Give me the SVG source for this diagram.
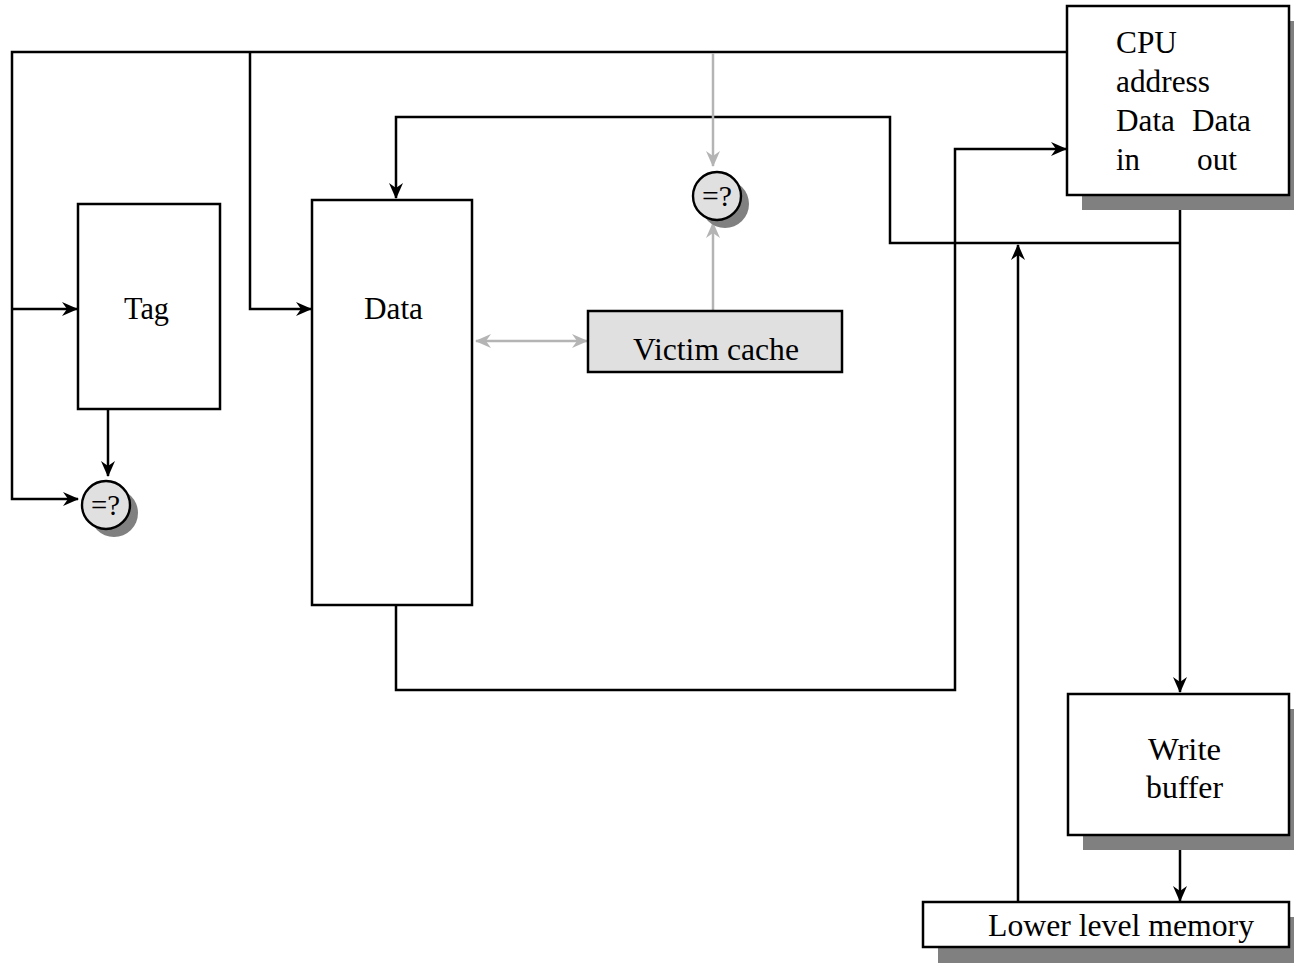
<svg xmlns="http://www.w3.org/2000/svg" width="1294" height="963" viewBox="0 0 1294 963">
<style>
.box{fill:#fff;stroke:#000;stroke-width:2.5}
.shadow{fill:#808080}
.line{fill:none;stroke:#000;stroke-width:2.5}
.gline{fill:none;stroke:#b4b4b4;stroke-width:2.5}
.cmp{fill:#e0e0e0;stroke:#000;stroke-width:2.4}
text{font-family:"Liberation Serif","Times New Roman",serif;font-size:31px;fill:#000}
.q{font-size:29px}
</style>
<defs>
<marker id="ah" viewBox="0 0 16 14" markerWidth="16" markerHeight="14" refX="15" refY="7" orient="auto" markerUnits="userSpaceOnUse">
<path d="M0,0 L16,7 L0,14 L5,7 z" fill="#000"/>
</marker>
<marker id="ag" viewBox="0 0 16 14" markerWidth="16" markerHeight="14" refX="15" refY="7" orient="auto-start-reverse" markerUnits="userSpaceOnUse">
<path d="M0,0 L16,7 L0,14 L5,7 z" fill="#b4b4b4"/>
</marker>
</defs>
<g id="connectors">
<path class="line" d="M1067,52 H12 V499 H78" marker-end="url(#ah)"/>
<path class="line" d="M12,309 H77" marker-end="url(#ah)"/>
<path class="line" d="M250,52 V309 H311" marker-end="url(#ah)"/>
<path class="line" d="M108,409 V476" marker-end="url(#ah)"/>
<path class="line" d="M1180,243 H890 V117 H396 V198" marker-end="url(#ah)"/>
<path class="line" d="M396,605 V690 H955 V149 H1066" marker-end="url(#ah)"/>
<path class="line" d="M1180,196 V692" marker-end="url(#ah)"/>
<path class="line" d="M1180,836 V901" marker-end="url(#ah)"/>
<path class="line" d="M1018,902 V245" marker-end="url(#ah)"/>
<path class="gline" d="M713,53 V166" marker-end="url(#ag)"/>
<path class="gline" d="M713,311 V223" marker-end="url(#ag)"/>
<path class="gline" d="M476,341 H587" marker-start="url(#ag)" marker-end="url(#ag)"/>
</g>
<g id="cpu">
<rect class="shadow" x="1082" y="21" width="222" height="189"/>
<rect class="box" x="1067" y="6" width="222" height="189"/>
<text x="1116" y="53" textLength="61" lengthAdjust="spacingAndGlyphs">CPU</text>
<text x="1116" y="92" textLength="94" lengthAdjust="spacingAndGlyphs">address</text>
<text x="1116" y="131" textLength="59" lengthAdjust="spacingAndGlyphs">Data</text>
<text x="1192" y="131" textLength="59" lengthAdjust="spacingAndGlyphs">Data</text>
<text x="1116" y="170" textLength="24" lengthAdjust="spacingAndGlyphs">in</text>
<text x="1197" y="170" textLength="40" lengthAdjust="spacingAndGlyphs">out</text>
</g>
<g id="tag">
<rect class="box" x="78" y="204" width="142" height="205"/>
<text x="124" y="319" textLength="45" lengthAdjust="spacingAndGlyphs">Tag</text>
</g>
<g id="data">
<rect class="box" x="312" y="200" width="160" height="405"/>
<text x="364" y="319" textLength="59" lengthAdjust="spacingAndGlyphs">Data</text>
</g>
<g id="cmp-tag">
<circle class="shadow" cx="114" cy="513" r="24"/>
<circle class="cmp" cx="106" cy="505" r="24"/>
<text class="q" x="91" y="515" textLength="29" lengthAdjust="spacingAndGlyphs">=?</text>
</g>
<g id="cmp-victim">
<circle class="shadow" cx="725" cy="204" r="24"/>
<circle class="cmp" cx="717" cy="196" r="24"/>
<text class="q" x="702" y="206" textLength="30" lengthAdjust="spacingAndGlyphs">=?</text>
</g>
<g id="victim">
<rect x="588" y="311" width="254" height="61" fill="#e0e0e0" stroke="#000" stroke-width="2.5"/>
<text x="633" y="360" textLength="166" lengthAdjust="spacingAndGlyphs">Victim cache</text>
</g>
<g id="write-buffer">
<rect class="shadow" x="1083" y="709" width="221" height="141"/>
<rect class="box" x="1068" y="694" width="221" height="141"/>
<text x="1148" y="760" textLength="73" lengthAdjust="spacingAndGlyphs">Write</text>
<text x="1146" y="798" textLength="77" lengthAdjust="spacingAndGlyphs">buffer</text>
</g>
<g id="lower-memory">
<rect class="shadow" x="938" y="917" width="366" height="46"/>
<rect class="box" x="923" y="902" width="366" height="45"/>
<text x="988" y="936" textLength="266" lengthAdjust="spacingAndGlyphs">Lower level memory</text>
</g>
</svg>
